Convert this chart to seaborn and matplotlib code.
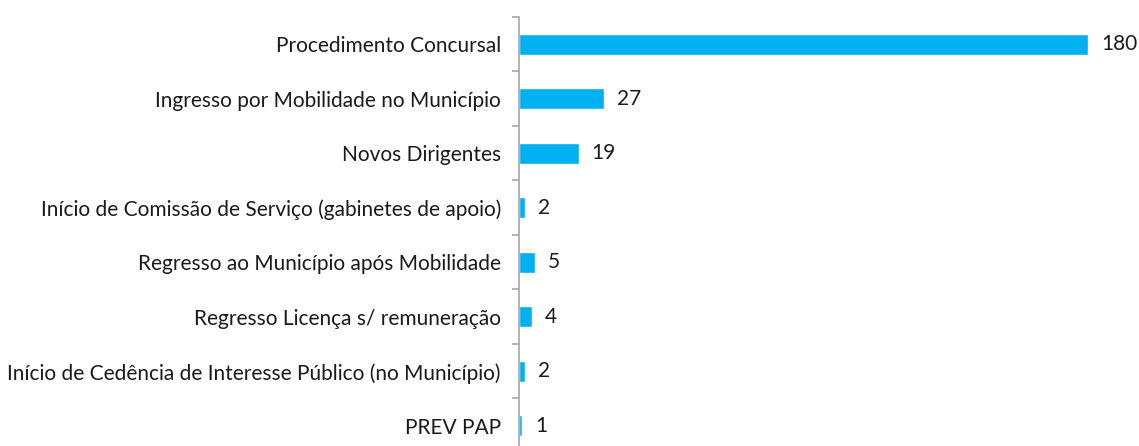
import matplotlib
matplotlib.use("Agg")
import matplotlib.pyplot as plt
import seaborn as sns
import numpy as np
import pandas as pd

categories = [
    "Procedimento Concursal",
    "Ingresso por Mobilidade no Município",
    "Novos Dirigentes",
    "Início de Comissão de Serviço (gabinetes de apoio)",
    "Regresso ao Município após Mobilidade",
    "Regresso Licença s/ remuneração",
    "Início de Cedência de Interesse Público (no Município)",
    "PREV PAP",
]
values = [180, 27, 19, 2, 5, 4, 2, 1]

sns.set_theme(style="white")
plt.rcParams['font.family'] = ['Lato', 'DejaVu Sans']

df = pd.DataFrame({"cat": categories, "val": values})

fig = plt.figure(figsize=(11.39, 4.46), dpi=100)
ax = fig.add_axes([519/1139, 1 - 453/446, (1139 - 519)/1139, (453 - 17)/446])

sns.barplot(data=df, y="cat", x="val", orient="h", color="#00B0F0",
            saturation=1, width=0.39, ax=ax)

ax.set_xlim(0, 196)
ax.set_ylim(len(categories) - 0.5, -0.5)
ax.set_xlabel("")
ax.set_ylabel("")
ax.set_xticks([])
for s in ["top", "right", "bottom"]:
    ax.spines[s].set_visible(False)
ax.spines["left"].set_color("#A6A6A6")
ax.spines["left"].set_linewidth(1.2)

ax.tick_params(axis="y", which="major", length=0, pad=13, labelsize=15, labelcolor="#1a1a1a")
ax.set_yticks(np.arange(-0.5, len(categories) + 0.5, 1), minor=True)
ax.tick_params(axis="y", which="minor", left=True, length=5, width=1.2, color="#A6A6A6", direction="out")

for i, v in enumerate(values):
    ax.text(v + 4.0, i, str(v), va="center", ha="left", fontsize=15, color="#1a1a1a")

fig.savefig("out.png", dpi=100)
